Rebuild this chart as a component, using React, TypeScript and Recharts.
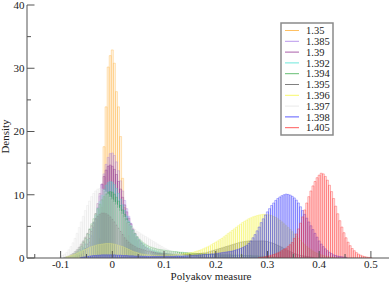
import React from 'react';
import { ComposedChart, Bar, XAxis, YAxis } from 'recharts';

const BIN = 0.004;
const X_DOMAIN: [number, number] = [-0.165, 0.535];
const Y_DOMAIN: [number, number] = [0, 40];
const xTicks = [-0.15, -0.1, -0.05, 0, 0.05, 0.1, 0.15, 0.2, 0.25, 0.3, 0.35, 0.4, 0.45, 0.5];
const yTicks = [0, 5, 10, 15, 20, 25, 30, 35, 40];

const betas = ['1.35', '1.385', '1.39', '1.392', '1.394', '1.395', '1.396', '1.397', '1.398', '1.405'];
const colors = ['#ffab2e', '#a274e6', '#8e2a8e', '#3fe0d0', '#33a844', '#555555', '#f4f43a', '#e2e2e2', '#2626ff', '#ff2424'];
// centre of the first bin of each histogram
const starts = [-0.032, -0.068, -0.072, -0.08, -0.088, -0.092, -0.088, -0.1, -0.06, 0.284];

const h135 = [0.3, 1, 3, 8, 17.6, 23.9, 30.2, 32, 32.9, 30.8, 26.3, 23.9, 19.2, 12.6, 8, 5.5, 3.5, 2.2, 1.4, 0.8, 0.4, 0.2];
const h1385 = [0.1, 0.2, 0.4, 0.7, 1.1, 1.7, 2.5, 3.5, 4.8, 6.3, 8, 9.8, 11.6, 13.3, 14.8, 15.9, 16.5, 16.6, 16.2, 15.2, 13.8, 12.2, 10.6, 9.1, 7.8, 6.6, 5.5, 4.5, 3.8, 3.2, 2.7, 2.3, 1.9, 1.6, 1.4, 1.2, 1, 0.85, 0.7, 0.6, 0.5, 0.45, 0.4, 0.35, 0.3, 0.25, 0.2, 0.2, 0.15, 0.1];
const h139 = [0.1, 0.2, 0.4, 0.6, 1, 1.5, 2.2, 3.1, 4.2, 5.5, 7, 8.6, 10.2, 11.7, 12.9, 13.9, 14.5, 14.7, 14.5, 14, 13.2, 12.1, 10.9, 9.6, 8.4, 7.3, 6.3, 5.4, 4.6, 3.9, 3.3, 2.8, 2.4, 2, 1.7, 1.5, 1.3, 1.1, 1, 0.9, 0.8, 0.7, 0.6, 0.55, 0.5, 0.45, 0.4, 0.35, 0.3, 0.3, 0.25, 0.2, 0.2, 0.15, 0.1];
const h1392 = [0.1, 0.2, 0.3, 0.5, 0.8, 1.1, 1.6, 2.2, 2.9, 3.7, 4.6, 5.6, 6.7, 7.8, 8.9, 9.9, 10.8, 11.5, 11.9, 12.1, 12, 11.6, 11, 10.2, 9.3, 8.4, 7.5, 6.6, 5.8, 5.1, 4.4, 3.8, 3.3, 2.9, 2.5, 2.2, 1.9, 1.7, 1.5, 1.3, 1.2, 1.1, 1, 0.9, 0.8, 0.75, 0.7, 0.65, 0.6, 0.55, 0.5, 0.45, 0.4, 0.35, 0.3, 0.3, 0.25, 0.2, 0.2, 0.15, 0.1];
const h1394 = [0.1, 0.2, 0.3, 0.5, 0.7, 1, 1.4, 1.9, 2.5, 3.1, 3.8, 4.6, 5.4, 6.2, 7, 7.8, 8.5, 9.2, 9.7, 10.1, 10.4, 10.5, 10.4, 10.1, 9.6, 9, 8.3, 7.6, 6.9, 6.2, 5.6, 5, 4.4, 3.9, 3.4, 3, 2.7, 2.4, 2.2, 2, 1.8, 1.7, 1.6, 1.5, 1.4, 1.35, 1.3, 1.25, 1.2, 1.15, 1.1, 1.05, 1, 1, 0.95, 0.9, 0.9, 0.85, 0.85, 0.8, 0.8, 0.75, 0.75, 0.7, 0.7, 0.7, 0.65, 0.65, 0.6, 0.6, 0.6, 0.55, 0.55, 0.55, 0.5, 0.5, 0.5, 0.5, 0.5, 0.5, 0.45, 0.45, 0.45, 0.45, 0.45, 0.4, 0.4, 0.4, 0.4, 0.4, 0.35, 0.35, 0.35, 0.3, 0.3, 0.3, 0.25, 0.25, 0.2, 0.2, 0.15, 0.15, 0.1, 0.1];
const h1395 = [0.1, 0.2, 0.3, 0.5, 0.7, 1, 1.3, 1.7, 2.2, 2.7, 3.3, 3.9, 4.5, 5.1, 5.7, 6.2, 6.6, 6.9, 7.1, 7.1, 7, 6.8, 6.5, 6.1, 5.7, 5.2, 4.7, 4.2, 3.7, 3.2, 2.8, 2.5, 2.2, 2, 1.8, 1.6, 1.5, 1.4, 1.3, 1.2, 1.1, 1, 0.95, 0.9, 0.85, 0.8, 0.8, 0.75, 0.7, 0.7, 0.65, 0.65, 0.6, 0.6, 0.6, 0.6, 0.6, 0.6, 0.6, 0.6, 0.6, 0.6, 0.65, 0.65, 0.7, 0.7, 0.75, 0.8, 0.8, 0.9, 1, 1.1, 1.2, 1.3, 1.4, 1.5, 1.6, 1.7, 1.8, 1.9, 2, 2.1, 2.2, 2.3, 2.4, 2.5, 2.55, 2.6, 2.65, 2.7, 2.7, 2.7, 2.7, 2.7, 2.7, 2.7, 2.7, 2.65, 2.6, 2.5, 2.4, 2.3, 2.15, 2, 1.85, 1.7, 1.5, 1.3, 1.15, 1, 0.85, 0.7, 0.6, 0.5, 0.4, 0.35, 0.3, 0.25, 0.2, 0.15, 0.1];
const h1396 = [0.2, 0.3, 0.4, 0.5, 0.6, 0.75, 0.9, 1.05, 1.2, 1.35, 1.5, 1.65, 1.8, 1.9, 2, 2.1, 2.15, 2.2, 2.25, 2.3, 2.3, 2.3, 2.25, 2.2, 2.1, 2, 1.9, 1.8, 1.65, 1.5, 1.35, 1.2, 1.05, 0.95, 0.85, 0.75, 0.65, 0.6, 0.55, 0.5, 0.5, 0.45, 0.45, 0.45, 0.45, 0.45, 0.45, 0.45, 0.5, 0.5, 0.5, 0.5, 0.55, 0.55, 0.6, 0.6, 0.65, 0.7, 0.75, 0.8, 0.85, 0.9, 1, 1.1, 1.2, 1.3, 1.45, 1.6, 1.75, 1.9, 2.1, 2.3, 2.5, 2.7, 2.9, 3.1, 3.35, 3.6, 3.85, 4.1, 4.35, 4.6, 4.85, 5.1, 5.35, 5.6, 5.8, 6, 6.2, 6.35, 6.5, 6.6, 6.7, 6.8, 6.85, 6.9, 6.9, 6.85, 6.8, 6.7, 6.55, 6.4, 6.2, 5.95, 5.7, 5.4, 5.1, 4.8, 4.5, 4.15, 3.8, 3.45, 3.1, 2.75, 2.4, 2.1, 1.8, 1.55, 1.3, 1.1, 0.9, 0.75, 0.6, 0.5, 0.4, 0.3, 0.25, 0.2, 0.15, 0.1];
const h1397 = [0.2, 0.4, 0.6, 0.9, 1.3, 1.8, 2.4, 3.1, 3.9, 4.8, 5.7, 6.6, 7.5, 8.3, 9, 9.7, 10.2, 10.6, 10.9, 11, 10.9, 10.7, 10.4, 10, 9.6, 9.2, 8.8, 8.4, 7.9, 7.4, 6.9, 6.4, 5.9, 5.5, 5.1, 4.8, 4.5, 4.2, 4, 3.8, 3.6, 3.4, 3.2, 3, 2.8, 2.6, 2.4, 2.2, 2, 1.8, 1.6, 1.45, 1.3, 1.15, 1, 0.9, 0.8, 0.7, 0.6, 0.5, 0.4, 0.35, 0.3, 0.25, 0.2, 0.15, 0.1];
const h1398 = [0.1, 0.15, 0.2, 0.25, 0.3, 0.35, 0.4, 0.4, 0.45, 0.45, 0.5, 0.5, 0.5, 0.5, 0.5, 0.5, 0.5, 0.45, 0.45, 0.45, 0.4, 0.4, 0.4, 0.35, 0.35, 0.35, 0.3, 0.3, 0.3, 0.3, 0.25, 0.25, 0.25, 0.25, 0.25, 0.25, 0.25, 0.25, 0.25, 0.25, 0.25, 0.25, 0.25, 0.25, 0.25, 0.25, 0.3, 0.3, 0.3, 0.3, 0.35, 0.35, 0.35, 0.4, 0.4, 0.45, 0.45, 0.5, 0.5, 0.55, 0.55, 0.6, 0.6, 0.65, 0.65, 0.7, 0.75, 0.8, 0.85, 0.9, 0.95, 1, 1.05, 1.1, 1.2, 1.3, 1.4, 1.5, 1.65, 1.8, 2, 2.3, 2.7, 3.2, 3.7, 4.3, 4.9, 5.6, 6.2, 6.8, 7.3, 7.8, 8.3, 8.7, 9.1, 9.4, 9.65, 9.85, 10, 10.1, 10.05, 9.95, 9.75, 9.5, 9.15, 8.7, 8.1, 7.5, 6.9, 6.3, 5.7, 5.1, 4.5, 3.9, 3.3, 2.7, 2.2, 1.8, 1.45, 1.15, 0.9, 0.7, 0.5, 0.4, 0.3, 0.25, 0.2, 0.15, 0.1];
const h1405 = [0.05, 0.1, 0.15, 0.2, 0.3, 0.35, 0.45, 0.55, 0.65, 0.8, 0.95, 1.15, 1.35, 1.55, 1.8, 2.1, 2.45, 3.1, 3.8, 4.6, 5.5, 6.5, 7.6, 8.7, 9.7, 10.6, 11.4, 12.1, 12.7, 13.1, 13.4, 13.3, 12.9, 12.3, 11.5, 10.5, 9.4, 8.2, 7, 5.9, 4.9, 4, 3.2, 2.5, 1.95, 1.5, 1.15, 0.85, 0.62, 0.45, 0.32, 0.22, 0.15, 0.1, 0.05];

const histograms = [h135, h1385, h139, h1392, h1394, h1395, h1396, h1397, h1398, h1405];

// one row per bin, each histogram filling the bins it covers
const startBin = starts.map((s) => Math.round(s / BIN));
const firstBin = Math.min(...startBin);
const lastBin = Math.max(...startBin.map((b, i) => b + histograms[i].length - 1));
const table: Record<string, number>[] = [];
for (let k = firstBin; k <= lastBin; k++) {
  const row: Record<string, number> = { x: Math.round(k * BIN * 1000) / 1000 };
  histograms.forEach((vals, i) => {
    const j = k - startBin[i];
    if (j >= 0 && j < vals.length) row[`s${i}`] = vals[j];
  });
  table.push(row);
}

const FRAME = '#555';
const FONT = "'Liberation Serif', 'Times New Roman', serif";

// each histogram gets its own x axis so the bars overlap instead of grouping
const xAxisOf = (i: number) => (i === 0 ? 'top' : i === histograms.length - 1 ? 'bottom' : `h${i}`);
const yAxisOf = (i: number) => (i === 8 ? 'right' : 'left');

const isMajor = (v: number, step: number) => Math.abs(v / step - Math.round(v / step)) < 1e-6;
const fmtX = (v: number) => String(Math.round(v * 100) / 100);

function xTick(side: 'top' | 'bottom') {
  return (props: any) => {
    const { x, y, payload } = props;
    const major = isMajor(payload.value, 0.1);
    const len = major ? 7 : 4;
    const dir = side === 'bottom' ? -1 : 1;
    return (
      <g>
        <line x1={x} x2={x} y1={y} y2={y + dir * len} stroke={FRAME} strokeWidth={1} />
        {side === 'bottom' && major && (
          <text x={x} y={y + 10} textAnchor="middle" fontSize={11} fontFamily={FONT} fill="#222">
            {fmtX(payload.value)}
          </text>
        )}
      </g>
    );
  };
}

function yTick(side: 'left' | 'right') {
  return (props: any) => {
    const { x, y, payload } = props;
    const major = isMajor(payload.value, 10);
    const len = major ? 7.5 : 4;
    const dir = side === 'left' ? 1 : -1;
    return (
      <g>
        <line x1={x} x2={x + dir * len} y1={y} y2={y} stroke={FRAME} strokeWidth={1} />
        {side === 'left' && major && (
          <text x={x - 2.5} y={y + 3.8} textAnchor="end" fontSize={11} fontFamily={FONT} fill="#222">
            {payload.value}
          </text>
        )}
      </g>
    );
  };
}

function Legend() {
  return (
    <svg width={391} height={283} style={{ position: 'absolute', left: 0, top: 0, pointerEvents: 'none' }}>
      <rect x={281} y={23} width={52} height={112} fill="#fff" stroke="#8a8a8a" strokeWidth={1.5} />
      {betas.map((b, i) => {
        const y = 30.5 + i * 10.8;
        return (
          <g key={b}>
            <line x1={285} x2={299} y1={y} y2={y} stroke={colors[i]} strokeOpacity={0.75} strokeWidth={1} />
            <text x={306} y={y + 3.6} fontSize={10.5} fontFamily={FONT} fill="#222">
              {b}
            </text>
          </g>
        );
      })}
    </svg>
  );
}

export default function App() {
  return (
    <div style={{ position: 'absolute', left: 0, top: 0, width: 391, height: 283, background: '#fff' }}>
      <ComposedChart
        width={391}
        height={283}
        data={table}
        margin={{ top: 5, right: 2, bottom: 0, left: 0 }}
        barCategoryGap={0}
        barGap={0}
      >
        <XAxis
          xAxisId="bottom"
          orientation="bottom"
          type="number"
          dataKey="x"
          domain={X_DOMAIN}
          allowDataOverflow
          ticks={xTicks}
          interval={0}
          height={25}
          tickSize={0}
          tickMargin={0}
          tickLine={false}
          tick={xTick('bottom')}
          axisLine={{ stroke: FRAME }}
          label={(p: any) => {
            const vb = p.viewBox;
            return (
              <text x={vb.x + vb.width / 2 + 3} y={vb.y + 21.5} textAnchor="middle" fontSize={11} fontFamily={FONT} fill="#222">
                Polyakov measure
              </text>
            );
          }}
        />
        <XAxis
          xAxisId="top"
          orientation="top"
          type="number"
          dataKey="x"
          domain={X_DOMAIN}
          allowDataOverflow
          ticks={xTicks}
          interval={0}
          height={0}
          tickSize={0}
          tickMargin={0}
          tickLine={false}
          tick={xTick('top')}
          axisLine={{ stroke: FRAME }}
        />
        {histograms.map((_, i) =>
          i === 0 || i === histograms.length - 1 ? null : (
            <XAxis key={`ax${i}`} xAxisId={`h${i}`} type="number" dataKey="x" domain={X_DOMAIN} allowDataOverflow hide />
          ),
        )}
        <YAxis
          yAxisId="left"
          orientation="left"
          type="number"
          domain={Y_DOMAIN}
          allowDataOverflow
          ticks={yTicks}
          interval={0}
          width={27}
          tickSize={0}
          tickMargin={0}
          tickLine={false}
          tick={yTick('left')}
          axisLine={{ stroke: FRAME }}
          label={(p: any) => {
            const vb = p.viewBox;
            const cx = 8.5;
            const cy = vb.y + vb.height / 2 + 5;
            return (
              <text x={cx} y={cy} transform={`rotate(-90 ${cx} ${cy})`} textAnchor="middle" fontSize={11} fontFamily={FONT} fill="#222">
                Density
              </text>
            );
          }}
        />
        <YAxis
          yAxisId="right"
          orientation="right"
          type="number"
          domain={Y_DOMAIN}
          allowDataOverflow
          ticks={yTicks}
          interval={0}
          width={0}
          tickSize={0}
          tickMargin={0}
          tickLine={false}
          tick={yTick('right')}
          axisLine={{ stroke: FRAME }}
        />
        {histograms.map((_, i) => (
          <Bar
            key={betas[i]}
            dataKey={`s${i}`}
            name={betas[i]}
            xAxisId={xAxisOf(i)}
            yAxisId={yAxisOf(i)}
            barSize={2}
            fill={colors[i]}
            fillOpacity={0.13}
            stroke={colors[i]}
            strokeWidth={0.5}
            strokeOpacity={0.65}
            isAnimationActive={false}
          />
        ))}
      </ComposedChart>
      <Legend />
    </div>
  );
}
